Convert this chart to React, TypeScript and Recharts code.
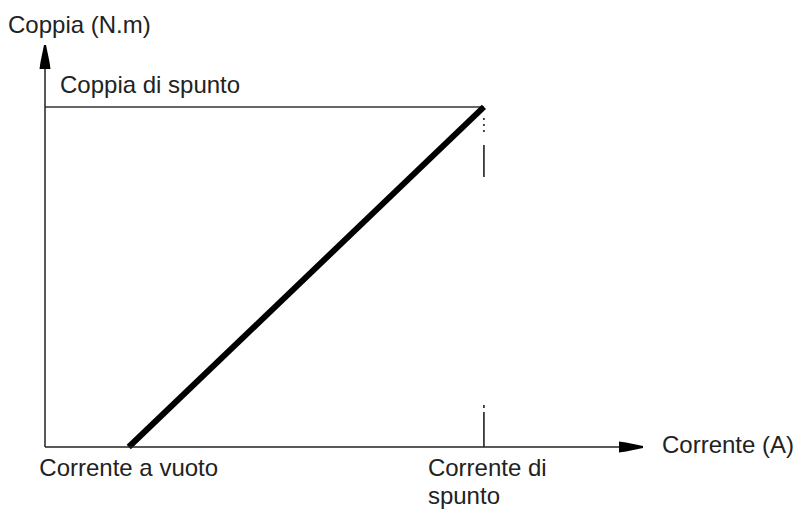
import { Label, Line, LineChart, ReferenceLine, XAxis, YAxis } from 'recharts';

// Corrente a vuoto / corrente di spunto (A) and the torque reached at each (N.m)
const currentA = [14, 73.4];
const torqueNm = [0, 84.6];
const tickLabels = ['Corrente a vuoto', 'Corrente di\nspunto'];
const axisMax = 100;

const FONT = '"Liberation Sans", Arial, sans-serif';
const INK = '#222';

const curve = currentA.map((corrente, i) => ({ corrente, coppia: torqueNm[i] }));
const stallCurrent = currentA[currentA.length - 1];
const stallTorque = torqueNm[torqueNm.length - 1];

interface TickProps {
  x?: number;
  y?: number;
  index?: number;
}

const CurrentTick = ({ x = 0, y = 0, index = 0 }: TickProps) => {
  const lines = tickLabels[index].split('\n');
  // the single-line label sits centred under its tick, the two-line one is left aligned
  const centred = lines.length === 1;
  const left = centred ? x : x - 56;
  return (
    <text
      x={left}
      y={y}
      textAnchor={centred ? 'middle' : 'start'}
      fill={INK}
      fontSize={24}
      fontFamily={FONT}
    >
      {lines.map((line, i) => (
        <tspan key={line} x={left} dy={i === 0 ? 21 : 28}>
          {line}
        </tspan>
      ))}
    </text>
  );
};

const ArrowDefs = () => (
  <svg width={0} height={0} style={{ position: 'absolute' }}>
    <defs>
      <marker
        id="axis-arrow"
        viewBox="0 0 24 12"
        refX={24}
        refY={6}
        markerWidth={24}
        markerHeight={12}
        markerUnits="userSpaceOnUse"
        orient="auto-start-reverse"
      >
        <path d="M0,0.5 L7,1.5 L24,5 L24,7 L7,10.5 L0,11.5 Z" fill="#000" />
      </marker>
    </defs>
  </svg>
);

export default function App() {
  return (
    <div style={{ position: 'absolute', left: 0, top: 0, background: '#fff' }}>
      <ArrowDefs />
      <LineChart
        width={795}
        height={511}
        data={curve}
        margin={{ top: 45, right: 152, left: 44, bottom: 34 }}
      >
        <XAxis
          type="number"
          dataKey="corrente"
          domain={[0, axisMax]}
          ticks={currentA}
          tick={<CurrentTick />}
          tickLine={false}
          interval={0}
          height={30}
          axisLine={{ stroke: INK, strokeWidth: 1.5, markerEnd: 'url(#axis-arrow)' }}
        >
          <Label
            content={({ viewBox }: any) => (
              <text
                x={viewBox.x + viewBox.width + 19}
                y={viewBox.y + 6}
                fill={INK}
                fontSize={24}
                fontFamily={FONT}
              >
                Corrente (A)
              </text>
            )}
          />
        </XAxis>
        <YAxis
          type="number"
          domain={[0, axisMax]}
          tick={false}
          tickLine={false}
          width={1}
          axisLine={{ stroke: INK, strokeWidth: 1.5, markerStart: 'url(#axis-arrow)' }}
        >
          <Label
            content={({ viewBox }: any) => (
              <text
                x={viewBox.x + viewBox.width - 37}
                y={viewBox.y - 12}
                fill={INK}
                fontSize={24}
                fontFamily={FONT}
              >
                Coppia (N.m)
              </text>
            )}
          />
        </YAxis>
        <ReferenceLine
          segment={[
            { x: 0, y: stallTorque },
            { x: stallCurrent, y: stallTorque },
          ]}
          stroke="#333"
          strokeWidth={1.5}
        >
          <Label
            content={({ viewBox }: any) => (
              <text
                x={viewBox.x + 15}
                y={viewBox.y - 14}
                fill={INK}
                fontSize={24}
                fontFamily={FONT}
              >
                Coppia di spunto
              </text>
            )}
          />
        </ReferenceLine>
        <ReferenceLine
          segment={[
            { x: stallCurrent, y: stallTorque },
            { x: stallCurrent, y: 0 },
          ]}
          stroke="#111"
          strokeWidth={1.5}
          strokeDasharray="0 11 2 4 2 4 2 13 32 228 3 4 35"
        />
        <Line
          type="linear"
          dataKey="coppia"
          stroke="#000"
          strokeWidth={6}
          dot={false}
          activeDot={false}
          isAnimationActive={false}
        />
      </LineChart>
    </div>
  );
}
